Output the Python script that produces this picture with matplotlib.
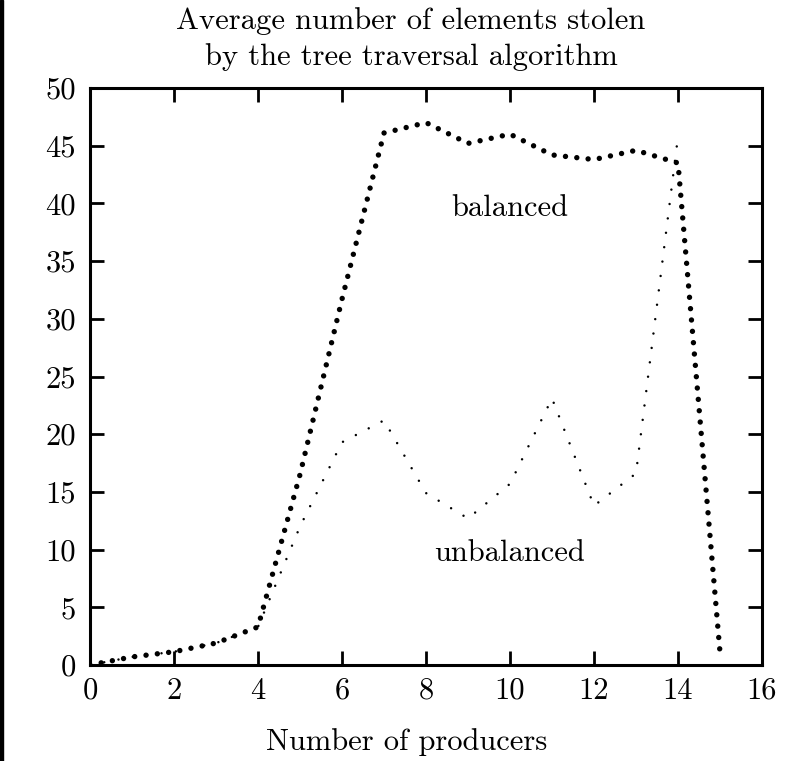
import numpy as np
import matplotlib
matplotlib.use("Agg")
import matplotlib.pyplot as plt
from matplotlib.patches import Rectangle

# producers on the x axis
producers = list(range(0, 16))
# average number of elements stolen
balanced = [0, 0.7, 1.15, 1.9, 3.3, 16.5, 31.7, 46.1, 47.0, 45.2, 46.0, 44.2, 43.8, 44.6, 43.5, 1.1]
unbalanced = [0, 0.7, 1.15, 1.9, 3.3, 12.0, 19.3, 21.2, 14.9, 12.7, 15.7, 23.1, 13.8, 16.6, 45.8]

xticks = list(range(0, 17, 2))
yticks = list(range(0, 51, 5))

FS = 22
plt.rcParams['font.family'] = ['cmr10', 'DejaVu Serif']
plt.rcParams['font.size'] = FS

fig = plt.figure(figsize=(8.06, 7.61), dpi=100)
ax = fig.add_axes([90/806, 96/761, 672/806, 577/761])

# thick dots for balanced, small sparse dots for unbalanced
ax.plot(producers, balanced, color='black', lw=3.9,
        linestyle=(0, (0.001, 2.1)), dash_capstyle='round', solid_capstyle='round')
ax.plot(producers[:len(unbalanced)], unbalanced, color='black', lw=1.8,
        linestyle=(0, (0.001, 5.8)), dash_capstyle='round')

ax.set_xlim(0, 16)
ax.set_ylim(0, 50)
ax.set_xticks(xticks)
ax.set_yticks(yticks)
ax.tick_params(direction='in', length=10, width=2, top=True, right=True,
               labelsize=FS)
ax.tick_params(axis='y', pad=10)
ax.tick_params(axis='x', pad=9)
for s in ax.spines.values():
    s.set_linewidth(2.2)

ax.text(10, 39.6, 'balanced', ha='center', va='center', fontsize=FS)
ax.text(10, 9.7, 'unbalanced', ha='center', va='center', fontsize=FS)

fig.text(411/806, 1 - 29/761, 'Average number of elements stolen', ha='center', va='baseline', fontsize=FS)
fig.text(411/806, 1 - 65/761, 'by the tree traversal algorithm', ha='center', va='baseline', fontsize=FS)
fig.text(407/806, 1 - 750/761, 'Number of producers', ha='center', va='baseline', fontsize=FS)

# black strip at the left edge
fig.patches.append(Rectangle((0, 0), 3/806, 1, transform=fig.transFigure,
                             color='black', zorder=10))

fig.savefig('out.png', dpi=100)
